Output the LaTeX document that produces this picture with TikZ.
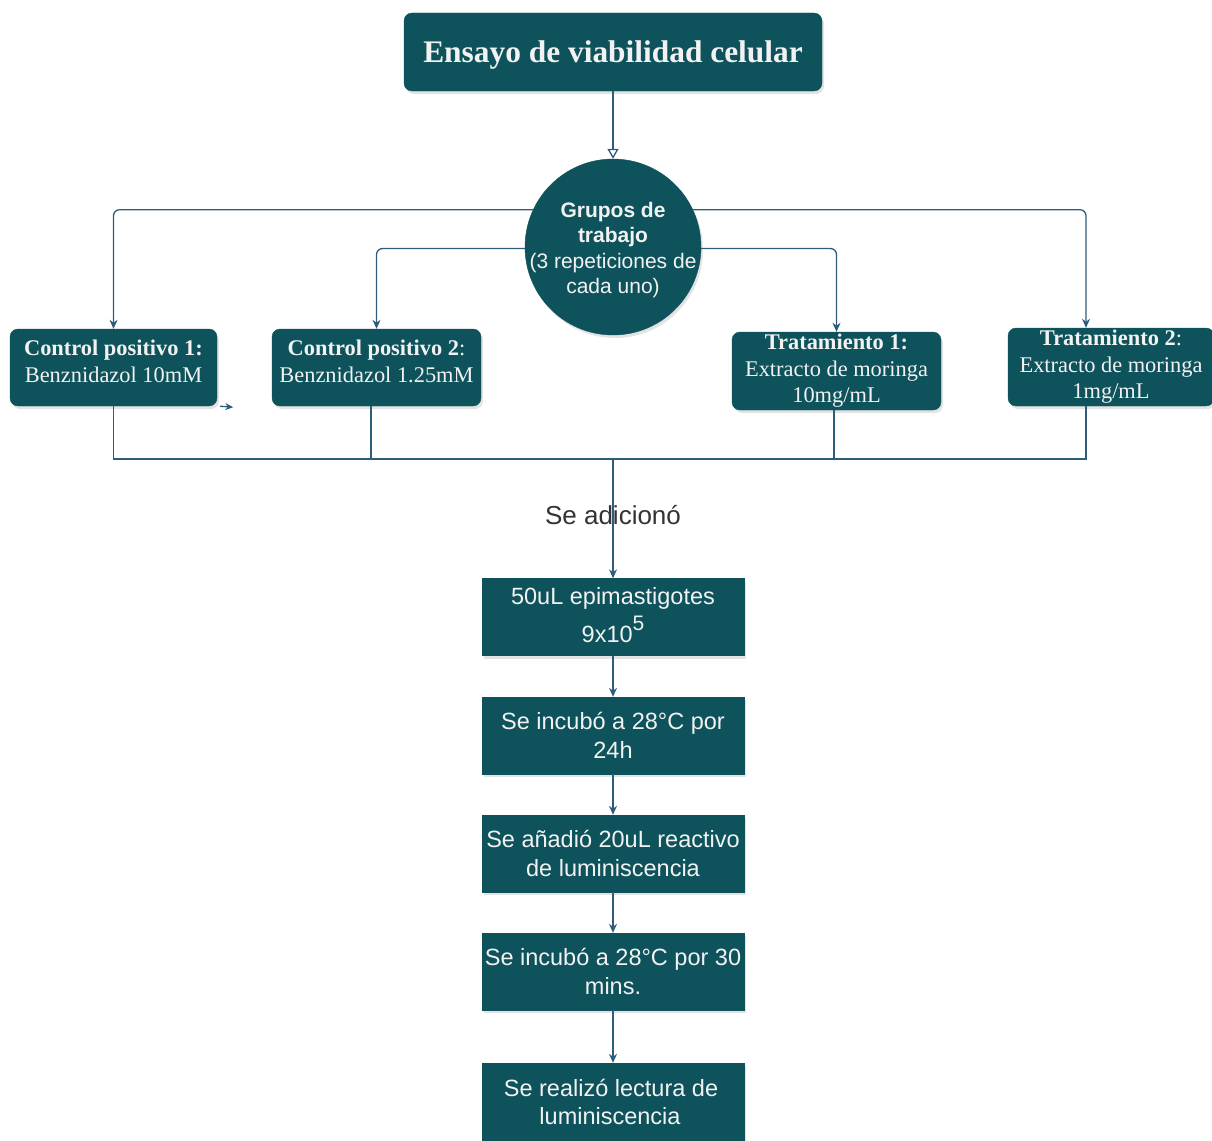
\documentclass[tikz,border=0pt]{standalone}
\usepackage{fontspec}
\setmainfont{Liberation Serif}
\setsansfont{Liberation Sans}
\usetikzlibrary{arrows.meta,shadows,calc}
\definecolor{teal1}{HTML}{0E535B}
\definecolor{linec}{HTML}{2E5D7C}
\definecolor{txtw}{HTML}{F2F2F2}
\definecolor{lbl}{HTML}{333333}
\tikzset{
  shad/.style={drop shadow={shadow xshift=2pt,shadow yshift=-3pt,opacity=0.22,fill=gray}},
  rbox/.style={shad,draw=teal1,fill=teal1,rounded corners=8pt,text=txtw,align=center,inner sep=0pt,font=\fontsize{22.4}{26.5}\selectfont},
  sbox/.style={shad,draw=teal1,fill=teal1,text=txtw,align=center,inner sep=0pt,minimum width=262pt,minimum height=77pt,font=\sffamily\fontsize{23.5}{28.5}\selectfont},
  conn/.style={draw=linec,line width=1.3pt},
  arr/.style={conn,-{Stealth[length=9pt,width=8pt]}},
}
\begin{document}
\begin{tikzpicture}[x=1pt,y=-1pt]
\useasboundingbox (0,0) rectangle (1212,1140);
\clip (0,0) rectangle (1212,1140);
% nodes
\node[rbox,minimum width=418pt,minimum height=78pt,font=\bfseries\fontsize{31.4}{36}\selectfont] (title) at (613,52) {\raisebox{-3pt}[\height][\depth]{Ensayo de viabilidad celular}};
\node[shad,circle,draw=teal1,fill=teal1,minimum size=176pt,inner sep=0pt,
  label={[text=txtw,align=center,font=\sffamily\fontsize{21}{25.3}\selectfont,yshift=-3pt]center:{\textbf{Grupos de}\\\textbf{trabajo}\\(3 repeticiones de\\cada uno)}}] (circ) at (613,247) {};
\node[rbox,minimum width=207pt,minimum height=77pt] (b1) at (113.5,367.5) {\raisebox{4pt}[\height][\depth]{\begin{tabular}{@{}c@{}}\textbf{Control positivo 1:}\\Benznidazol 10mM\end{tabular}}};
\node[rbox,minimum width=209pt,minimum height=77pt] (b2) at (376.5,367.5) {\raisebox{4pt}[\height][\depth]{\begin{tabular}{@{}c@{}}\textbf{Control positivo 2}:\\Benznidazol 1.25mM\end{tabular}}};
\node[rbox,minimum width=209pt,minimum height=78pt] (b3) at (836.5,371) {\textbf{Tratamiento 1:}\\Extracto de moringa\\10mg/mL};
\node[rbox,minimum width=206pt,minimum height=78pt] (b4) at (1111,367) {\textbf{Tratamiento 2}:\\Extracto de moringa\\1mg/mL};
\node[sbox] (b5) at (613,617) {\raisebox{4pt}{\shortstack{50uL epimastigotes\\[4pt]9x10\raisebox{0.5em}{\fontsize{21}{21}\selectfont 5}}}};
\node[sbox] (b6) at (613,735.5) {Se incubó a 28°C por\\24h};
\node[sbox] (b7) at (613,853.5) {Se añadió 20uL reactivo\\de luminiscencia};
\node[sbox] (b8) at (613,971.5) {Se incubó a 28°C por 30\\mins.};
\node[sbox,minimum height=78pt] (b9) at (613,1102) {\hspace*{-4pt}Se realizó lectura de\\\hspace*{-6pt}luminiscencia};
\coordinate (bus) at (613,459);
% connectors
\draw[conn,-{Triangle[open,length=10pt,width=11pt]}] (title.south) -- (circ.north);
\draw[arr,rounded corners=6pt] (circ.155) -| (b1.north);
\draw[arr,rounded corners=6pt] (circ.181.3) -| (b2.north);
\draw[arr,rounded corners=6pt] (circ.-1.3) -| (b3.north);
\draw[arr,rounded corners=6pt] (circ.25) -| ([xshift=-25pt]b4.north);
\draw[conn] (b1.south) |- (bus) -| ([xshift=-25pt]b4.south);
\draw[conn] ([xshift=-5.5pt]b2.south) -- ([xshift=-5.5pt]b2.south |- bus);
\draw[conn] ([xshift=-2.5pt]b3.south) -- ([xshift=-2.5pt]b3.south |- bus);
\draw[arr] (bus) -- (b5.north) node[pos=0.47,text=lbl,font=\sffamily\fontsize{26}{30}\selectfont] {Se adicionó};
\draw[arr,-{Stealth[length=8pt,width=7pt]}] ([xshift=3pt]b1.south east) -- ++(13,1);
\draw[arr] (b5.south) -- (b6.north);
\draw[arr] (b6.south) -- (b7.north);
\draw[arr] (b7.south) -- (b8.north);
\draw[arr] (b8.south) -- (b9.north);
\end{tikzpicture}
\end{document}
